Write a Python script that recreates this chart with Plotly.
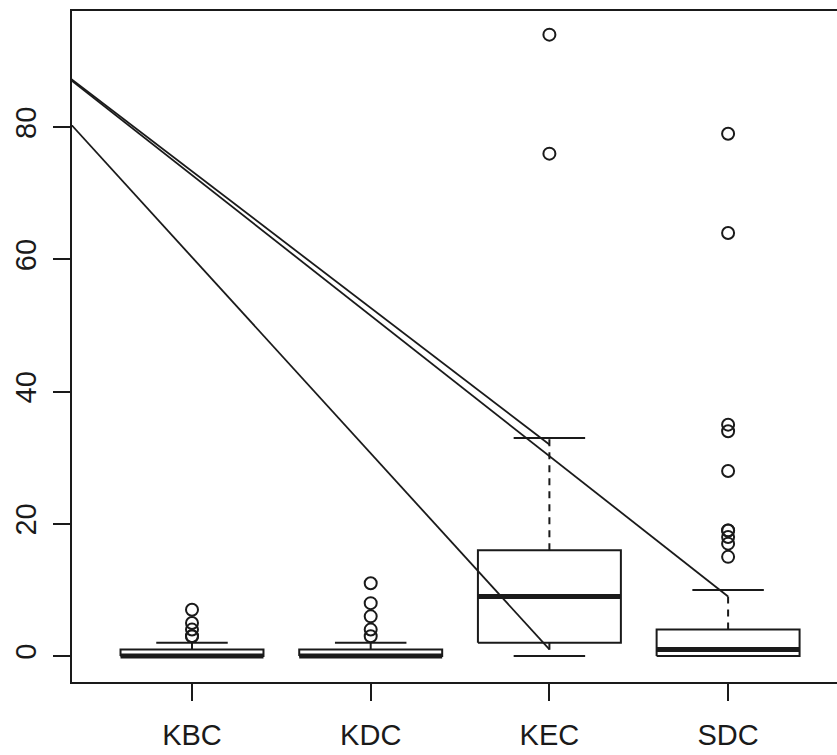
import plotly.graph_objects as go

categories = ["KBC", "KDC", "KEC", "SDC"]
q1 = [0, 0, 2, 0]
median = [0, 0, 9, 1]
q3 = [1, 1, 16, 4]
lower_whisker = [0, 0, 0, 0]
upper_whisker = [2, 2, 33, 10]
outliers = [
    [3, 3, 4, 5, 7],
    [3, 4, 6, 8, 11],
    [76, 94],
    [15, 17, 18, 19, 19, 28, 34, 35, 64, 79],
]
# overlaid line segments (x positions on category scale, y values)
seg_x = [[0, 3], [0, 4], [0, 3]]
seg_y = [[94, 32], [94, 9], [90, 1]]

pos = list(range(1, len(categories) + 1))
BW = 0.4   # half box width
CW = 0.2   # half cap width
INK = "#1a1a1a"

fig = go.Figure()

# boxes
bx, by = [], []
for p, a, b in zip(pos, q1, q3):
    bx += [p - BW, p + BW, p + BW, p - BW, p - BW, None]
    by += [a, a, b, b, a, None]
fig.add_trace(go.Scatter(x=bx, y=by, mode="lines", line=dict(color=INK, width=2),
                         hoverinfo="skip", showlegend=False))

# whiskers (dashed)
wx, wy = [], []
for p, a, b, lo, hi in zip(pos, q1, q3, lower_whisker, upper_whisker):
    if hi > b:
        wx += [p, p, None]; wy += [b, hi, None]
    if lo < a:
        wx += [p, p, None]; wy += [a, lo, None]
fig.add_trace(go.Scatter(x=wx, y=wy, mode="lines", line=dict(color=INK, width=2, dash="7px,6px"),
                         hoverinfo="skip", showlegend=False))

# caps
cx, cy = [], []
for p, lo, hi in zip(pos, lower_whisker, upper_whisker):
    cx += [p - CW, p + CW, None, p - CW, p + CW, None]
    cy += [hi, hi, None, lo, lo, None]
fig.add_trace(go.Scatter(x=cx, y=cy, mode="lines", line=dict(color=INK, width=2),
                         hoverinfo="skip", showlegend=False))

# medians
mx, my = [], []
for p, m in zip(pos, median):
    mx += [p - BW, p + BW, None]; my += [m, m, None]
fig.add_trace(go.Scatter(x=mx, y=my, mode="lines", line=dict(color=INK, width=5),
                         hoverinfo="skip", showlegend=False))

# outliers
ox, oy = [], []
for p, vals in zip(pos, outliers):
    ox += [p] * len(vals); oy += vals
fig.add_trace(go.Scatter(x=ox, y=oy, mode="markers",
                         marker=dict(symbol="circle-open", size=12, color=INK, line=dict(width=2)),
                         hoverinfo="skip", showlegend=False))

# line segments
for xs, ys in zip(seg_x, seg_y):
    fig.add_trace(go.Scatter(x=xs, y=ys, mode="lines", line=dict(color=INK, width=1.8),
                             hoverinfo="skip", showlegend=False))

FONT = "Liberation Sans, Arial, Helvetica, sans-serif"
fig.update_layout(
    width=837, height=755,
    margin=dict(l=72, r=0, t=11, b=73),
    paper_bgcolor="white", plot_bgcolor="white",
    font=dict(family=FONT, size=29, color=INK),
    xaxis=dict(range=[0.3285, 4.6094], tickvals=pos, ticktext=categories,
               showgrid=False, zeroline=False, showline=True, mirror=True,
               linecolor=INK, linewidth=2, ticks="outside", ticklen=17, tickwidth=1.5,
               tickcolor=INK, ticklabelstandoff=9),
    yaxis=dict(range=[-3.93, 97.58], tickvals=[0, 20, 40, 60, 80],
               showgrid=False, zeroline=False, showline=True, mirror=False,
               linecolor=INK, linewidth=2, ticks="outside", ticklen=17, tickwidth=1.5,
               tickcolor=INK, tickangle=-90, ticklabelstandoff=5),
)

fig.write_html("out.html")
